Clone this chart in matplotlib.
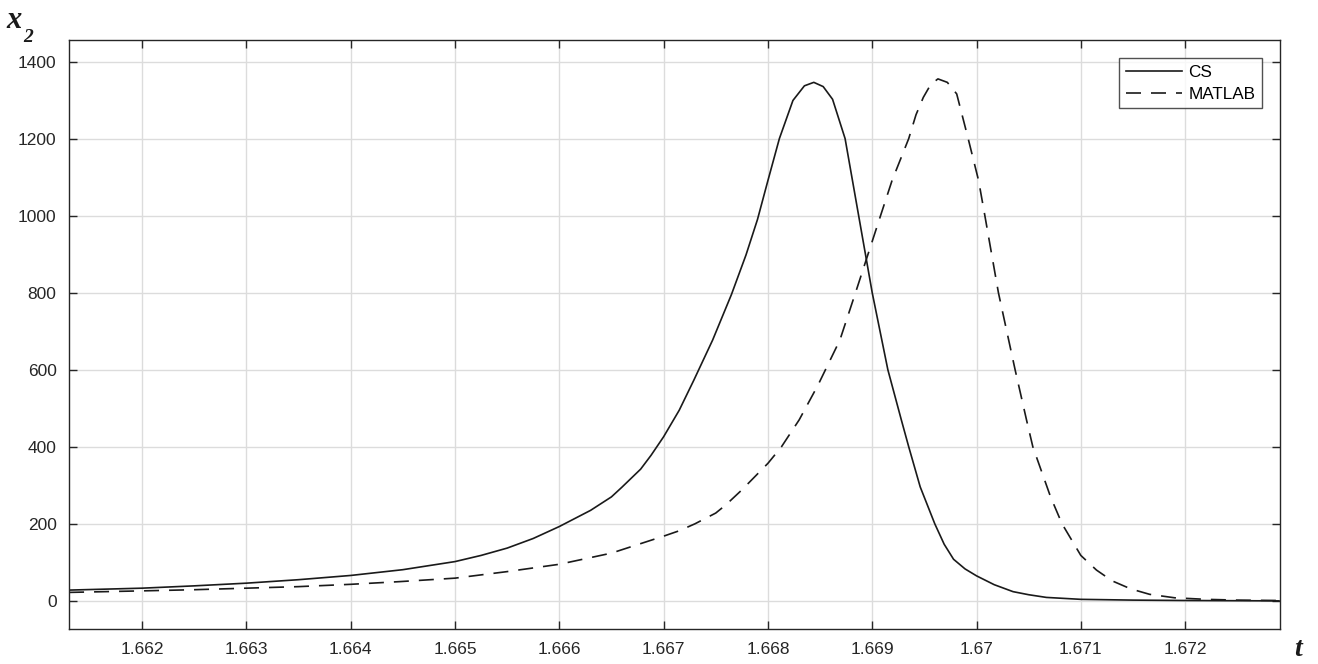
import matplotlib.pyplot as plt

# CS solution
t_cs = [1.6613, 1.6620, 1.6625, 1.6630, 1.6635, 1.6640, 1.6645, 1.6650, 1.66525,
        1.6655, 1.66575, 1.6660, 1.6663, 1.6665, 1.6666, 1.66678, 1.66688, 1.6670,
        1.66715, 1.66729, 1.66747, 1.66765, 1.66779, 1.6679, 1.6680, 1.66811,
        1.66824, 1.66835, 1.66844, 1.66853, 1.66862, 1.66874, 1.66887, 1.66900,
        1.66915, 1.66928, 1.66935, 1.66946, 1.66960, 1.66969, 1.66978, 1.66989,
        1.6700, 1.67017, 1.67035, 1.6705, 1.67067, 1.6710, 1.6715, 1.6720, 1.6729]
x2_cs = [28, 33, 39, 46, 55, 66, 81, 102, 118,
         137, 162, 193, 235, 270, 295, 342, 378, 426,
         495, 573, 677, 795, 898, 990, 1091, 1200,
         1299, 1337, 1346, 1335, 1302, 1200, 1000, 800,
         600, 469, 400, 296, 200, 147, 108, 83,
         65, 42, 24, 16, 9, 4, 2, 1, 0]

# MATLAB solution
t_ml = [1.6613, 1.6620, 1.6625, 1.6630, 1.6635, 1.6640, 1.66447, 1.6650, 1.6655,
        1.6660, 1.6665, 1.6670, 1.66715, 1.6673, 1.6675, 1.6676, 1.66775, 1.6680,
        1.66813, 1.66830, 1.66848, 1.66869, 1.66884, 1.66908, 1.66919, 1.66935,
        1.66942, 1.66949, 1.66956, 1.66963, 1.66972, 1.66981, 1.66992, 1.67002,
        1.67008, 1.67021, 1.67037, 1.67048, 1.67054, 1.67071, 1.67082, 1.6710,
        1.67115, 1.6713, 1.67148, 1.67166, 1.6719, 1.6722, 1.6725, 1.6729]
x2_ml = [22, 26, 29, 33, 37, 43, 50, 59, 76,
         95, 124, 168, 182, 200, 228, 250, 288, 357,
         400, 470, 560, 677, 800, 1000, 1091, 1200,
         1262, 1307, 1340, 1355, 1346, 1316, 1200, 1091,
         1000, 800, 600, 469, 400, 270, 200, 118,
         80, 52, 31, 17, 8, 4, 2, 1]

xticks = [1.662, 1.663, 1.664, 1.665, 1.666, 1.667, 1.668, 1.669, 1.670, 1.671, 1.672]
xtick_labels = ["1.662", "1.663", "1.664", "1.665", "1.666", "1.667", "1.668",
                "1.669", "1.67", "1.671", "1.672"]
yticks = [0, 200, 400, 600, 800, 1000, 1200, 1400]

plt.rcParams['font.family'] = ['Liberation Sans', 'DejaVu Sans']

fig = plt.figure(figsize=(13.18, 6.64), dpi=100)
ax = fig.add_axes([0.0524, 0.0527, 0.9188, 0.8871])

ax.plot(t_cs, x2_cs, color="#1a1a1a", lw=1.2, label="CS")
ax.plot(t_ml, x2_ml, color="#1a1a1a", lw=1.2, ls=(0, (9, 6)), label="MATLAB")

ax.set_xlim(1.66130, 1.67291)
ax.set_ylim(-73, 1456)
ax.set_xticks(xticks)
ax.set_xticklabels(xtick_labels)
ax.set_yticks(yticks)

ax.grid(True, color="#dcdcdc", lw=1)
ax.set_axisbelow(True)
for s in ax.spines.values():
    s.set_color("#262626")
    s.set_linewidth(1.0)
ax.tick_params(direction="in", length=6, width=1, color="#262626",
               labelcolor="#262626", labelsize=12.5, top=True, right=True, pad=9)

leg = ax.legend(loc="upper right", fontsize=12.3, frameon=True, fancybox=False,
                handlelength=3.3, borderaxespad=1.05, labelspacing=0.4,
                handletextpad=0.35, borderpad=0.4)
leg.get_frame().set_edgecolor("#262626")
leg.get_frame().set_linewidth(1.0)

fig.text(0.005, 0.958, "x", family="Liberation Serif", style="italic",
         weight="bold", fontsize=22, color="#1a1a1a")
fig.text(0.0175, 0.937, "2", family="Liberation Serif", style="italic",
         weight="bold", fontsize=14, color="#1a1a1a")
fig.text(0.982, 0.012, "t", family="Liberation Serif", style="italic",
         weight="bold", fontsize=20, color="#1a1a1a")

plt.savefig("out.png")
plt.close()
